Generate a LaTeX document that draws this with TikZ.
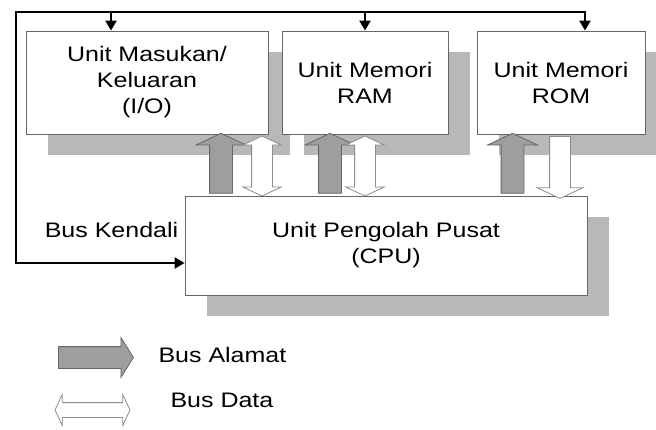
\documentclass[tikz,border=0pt]{standalone}
\usepackage{fontspec}
\setmainfont{Liberation Sans}[FakeStretch=1.19]
\usetikzlibrary{shapes.arrows,shadows,arrows.meta}

\begin{document}
\begin{tikzpicture}[x=1pt, y=-1pt, every node/.style={font=\fontsize{21}{26}\selectfont},
  unit/.style={draw=black!60, line width=0.8pt, fill=white, align=center, minimum height=103pt, inner sep=0pt,
    drop shadow={shadow xshift=22pt, shadow yshift=-21pt, opacity=1, fill=black!28}},
  addr/.style={single arrow, draw=black!60, fill=black!38, line width=0.8pt, inner xsep=0pt, inner ysep=11pt,
    single arrow head extend=13.5pt, single arrow tip angle=130},
  dat/.style={double arrow, draw=black!45, fill=white, line width=0.8pt, inner xsep=0pt, inner ysep=10pt,
    double arrow head extend=9pt, double arrow tip angle=130},
  datdown/.style={single arrow, draw=black!45, fill=white, line width=0.8pt, inner xsep=0pt, inner ysep=10pt,
    single arrow head extend=12.5pt, single arrow tip angle=130},
  ctrl/.style={line width=2pt, line cap=rect, -{Triangle[width=11pt,length=10pt]}}]
\useasboundingbox (0,0) rectangle (656,430);
% units
\node[unit, minimum width=242pt] (io) at (147,82.5) {Unit Masukan/\\Keluaran\\(I/O)};
\node[unit, minimum width=166pt] (ram) at (365,82.5) {Unit Memori\\RAM};
\node[unit, minimum width=168pt] (rom) at (561,82.5) {Unit Memori\\ROM};
\node[unit, minimum width=402pt, minimum height=99pt] (cpu) at (386,245.5) {Unit Pengolah Pusat\\(CPU)};
% address and data buses
\node[addr, rotate=90, minimum height=60pt] (a1) at (221,166) {};
\node[dat, rotate=90, minimum height=60pt] (d1) at (262,166) {};
\node[addr, rotate=90, minimum height=60pt] (a2) at (330,166) {};
\node[dat, rotate=90, minimum height=60pt] (d2) at (365,166) {};
\node[addr, rotate=90, minimum height=60pt] (a3) at (512.5,166) {};
\node[datdown, rotate=-90, minimum height=62pt] (d3) at (560,165) {};
% control bus
\coordinate (tl) at (16,12);
\coordinate (tr) at (585,12);
\coordinate (k1) at (111,12);
\coordinate (kd) at (16,263);
\draw[ctrl] (tl) -- (tr) -- (tr |- rom.north);
\draw[ctrl] (tl) -- (kd) -- (kd -| cpu.west);
\draw[ctrl] (k1) -- (k1 |- io.north);
\draw[ctrl] (ram.north |- tl) -- (ram.north);
\node (kdl) at (111.5,230) {Bus Kendali};
% legend
\node[addr, minimum height=75pt, inner ysep=10.5pt, single arrow head extend=9pt, single arrow tip angle=116] (la) at (92.5,357.5) {};
\node[anchor=west] (lal) at (155,355) {Bus Alamat};
\node[dat, minimum height=75pt, inner ysep=7pt, double arrow head extend=8pt] (ld) at (92.5,410) {};
\node[anchor=west] (ldl) at (167,400) {Bus Data};
\end{tikzpicture}
\end{document}
